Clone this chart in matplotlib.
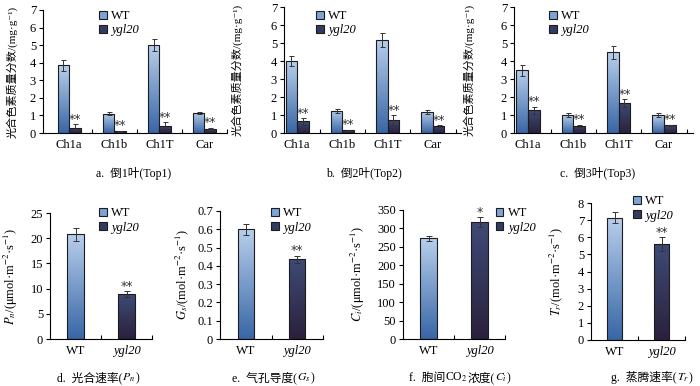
import matplotlib.pyplot as plt
import numpy as np
from matplotlib.colors import LinearSegmentedColormap
from matplotlib.ticker import MultipleLocator, FuncFormatter

# pigment content of the three top leaves (mg/g)
pigments = ['Ch1a', 'Ch1b', 'Ch1T', 'Car']
top1_wt = [3.85, 1.10, 5.00, 1.15]
top1_wt_err = [0.30, 0.10, 0.35, 0.06]
top1_ygl = [0.30, 0.10, 0.40, 0.25]
top1_ygl_err = [0.20, 0.03, 0.20, 0.05]
top2_wt = [4.00, 1.23, 5.17, 1.17]
top2_wt_err = [0.30, 0.10, 0.37, 0.09]
top2_ygl = [0.64, 0.16, 0.73, 0.39]
top2_ygl_err = [0.18, 0.03, 0.27, 0.04]
top3_wt = [3.48, 1.00, 4.48, 1.00]
top3_wt_err = [0.30, 0.09, 0.38, 0.10]
top3_ygl = [1.26, 0.41, 1.65, 0.42]
top3_ygl_err = [0.20, 0.05, 0.22, 0.04]

# gas exchange
genotypes = ['WT', 'ygl20']
pn_vals = [20.8, 8.9]
pn_err = [1.3, 0.6]
gs_vals = [0.60, 0.435]
gs_err = [0.03, 0.02]
ci_vals = [273, 318]
ci_err = [6, 13]
tr_vals = [7.15, 5.6]
tr_err = [0.3, 0.4]

plt.rcParams['font.family'] = ['Liberation Serif', 'Noto Sans CJK SC', 'DejaVu Serif']
plt.rcParams['mathtext.fontset'] = 'stix'
plt.rcParams['font.size'] = 9

W, H = 700, 386
fig = plt.figure(figsize=(W / 100, H / 100), dpi=100)

wt_cmap = LinearSegmentedColormap.from_list('wt', ['#3866a6', '#b8cfec'])
ygl_cmap = LinearSegmentedColormap.from_list('ygl', ['#2b203c', '#3e4b76'])
EDGE = '#1c1c1c'


def rect(left, right, top, bottom):
    return [left / W, 1 - bottom / H, (right - left) / W, (bottom - top) / H]


def fill_gradient(ax, bars, cmap):
    grad = np.linspace(0, 1, 256).reshape(-1, 1)
    for p in bars:
        x, y = p.get_xy()
        im = ax.imshow(grad, extent=(x, x + p.get_width(), y, y + p.get_height()),
                       origin='lower', aspect='auto', cmap=cmap, zorder=2)
        im.set_clip_path(p)
        p.set_facecolor('none')


def style(ax):
    ax.spines[['top', 'right']].set_visible(False)
    ax.spines[['left', 'bottom']].set_linewidth(0.8)
    ax.tick_params(axis='y', direction='out', length=3, width=0.8, pad=2, labelsize=9)
    ax.tick_params(axis='x', which='major', length=0, pad=4, labelsize=9)
    ax.tick_params(axis='x', which='minor', direction='in', length=3, width=0.8)
    ax.yaxis.set_major_formatter(FuncFormatter(lambda v, _: f'{v:g}'))


def add_legend(ax, handles, left, top):
    leg = ax.legend(handles, ['WT', 'ygl20'], loc='upper left',
                    bbox_to_anchor=(left / W, 1 - top / H), bbox_transform=fig.transFigure,
                    frameon=False, fontsize=9, handlelength=0.6, handleheight=0.6,
                    handletextpad=0.35, labelspacing=0.2, borderpad=0, borderaxespad=0)
    leg.get_texts()[1].set_fontstyle('italic')


def stars_above(ax, x, top, mark):
    ax.annotate(mark, (x, top), xytext=(0, 1), textcoords='offset points',
                ha='center', va='baseline', fontsize=9, color='#333333', family='DejaVu Sans')


def rich_text(xc, yb, pieces):
    # lay pieces side by side, centred on xc (pixels), baseline at yb (pixels from top)
    r = fig.canvas.get_renderer()
    texts = [fig.text(0, 1 - yb / H, s, ha='left', va='baseline', fontsize=8.5) for s in pieces]
    widths = [t.get_window_extent(r).width for t in texts]
    x = xc - sum(widths) / 2
    for t, w in zip(texts, widths):
        t.set_x(x / W)
        x += w


def pigment_panel(box, xlim, wt, wt_err, ygl, ygl_err, leg_pos, ylab_px, caption, cap_pos):
    ax = fig.add_axes(rect(*box))
    x = np.arange(len(pigments))
    w = 0.255
    b1 = ax.bar(x - w / 2, wt, w, color='#7ea3d4', edgecolor=EDGE, linewidth=0.8, zorder=3)
    b2 = ax.bar(x + w / 2, ygl, w, color='#353a62', edgecolor=EDGE, linewidth=0.8, zorder=3)
    ax.errorbar(x - w / 2, wt, yerr=wt_err, fmt='none', ecolor='#333333',
                elinewidth=0.7, capsize=1.8, capthick=0.7, zorder=4)
    ax.errorbar(x + w / 2, ygl, yerr=ygl_err, fmt='none', ecolor='#333333',
                elinewidth=0.7, capsize=1.8, capthick=0.7, zorder=4)
    for xi, v, e in zip(x + w / 2, ygl, ygl_err):
        stars_above(ax, xi, v + e, '**')
    add_legend(ax, [b1, b2], *leg_pos)
    fill_gradient(ax, b1, wt_cmap)
    fill_gradient(ax, b2, ygl_cmap)
    style(ax)
    ax.set_xlim(xlim)
    ax.set_ylim(0, 7)
    ax.yaxis.set_major_locator(MultipleLocator(1))
    ax.set_xticks(x, pigments)
    ax.set_xticks(np.arange(0.5, len(x)), minor=True)
    ax.set_ylabel('光合色素质量分数/(mg·g⁻¹)', fontsize=8)
    ax.yaxis.set_label_coords((ylab_px - box[0]) / (box[1] - box[0]), 0.5)
    fig.text(cap_pos[0] / W, 1 - cap_pos[1] / H, caption, ha='center', va='center', fontsize=8.5)


def gas_panel(box, vals, err, stars, ymax, step, leg_pos, ylabel, ylab_px, caption, cap_pos):
    ax = fig.add_axes(rect(*box))
    x = np.arange(len(genotypes))
    w = 0.32
    b1 = ax.bar(x[0], vals[0], w, color='#7ea3d4', edgecolor=EDGE, linewidth=0.8, zorder=3)
    b2 = ax.bar(x[1], vals[1], w, color='#353a62', edgecolor=EDGE, linewidth=0.8, zorder=3)
    ax.errorbar(x, vals, yerr=err, fmt='none', ecolor='#333333',
                elinewidth=0.7, capsize=2.2, capthick=0.7, zorder=4)
    stars_above(ax, x[1], vals[1] + err[1], stars)
    add_legend(ax, [b1, b2], *leg_pos)
    fill_gradient(ax, b1, wt_cmap)
    fill_gradient(ax, b2, ygl_cmap)
    style(ax)
    ax.set_xlim(-0.5, 1.5)
    ax.set_ylim(0, ymax)
    ax.yaxis.set_major_locator(MultipleLocator(step))
    ax.set_xticks(x, genotypes)
    ax.get_xticklabels()[1].set_fontstyle('italic')
    ax.set_xticks([0.5, 1.5], minor=True)
    ax.set_ylabel(ylabel, fontsize=9)
    ax.yaxis.set_label_coords((ylab_px - box[0]) / (box[1] - box[0]), 0.5)
    rich_text(cap_pos[0], cap_pos[1], caption)


pigment_panel((43, 227, 10, 133), (-0.58, 3.5), top1_wt, top1_wt_err, top1_ygl, top1_ygl_err,
              (99, 10), 18, 'a.  倒1叶(Top1)', (134, 173))
pigment_panel((284, 461, 7, 133), (-0.29, 3.62), top2_wt, top2_wt_err, top2_ygl, top2_ygl_err,
              (316, 10), 243, 'b.  倒2叶(Top2)', (364, 173))
pigment_panel((514, 693, 7, 133), (-0.31, 3.64), top3_wt, top3_wt_err, top3_ygl, top3_ygl_err,
              (549, 10), 475, 'c.  倒3叶(Top3)', (598, 173))

gas_panel((50, 152, 213, 339), pn_vals, pn_err, '**', 25, 5, (99, 207),
          r'$P_n$/($\mathrm{\mu}$mol·m$^{-2}$·s$^{-1}$)', 20,
          ['d.  光合速率(', r'$P_n$', ')'], (98, 381))
gas_panel((220, 323, 211, 339), gs_vals, gs_err, '**', 0.7, 0.1, (271, 207),
          r'$G_s$/(mol·m$^{-2}$·s$^{-1}$)', 191,
          ['e.  气孔导度(', r'$G_s$', ')'], (273, 381))
gas_panel((403, 505, 210, 339), ci_vals, ci_err, '*', 350, 50, (496, 207),
          r'$C_i$/($\mathrm{\mu}$mol·m$^{-2}$·s$^{-1}$)', 367,
          ['f.  胞间', r'CO$_2$', '浓度(', r'$C_i$', ')'], (460, 381))
gas_panel((591, 685, 203, 340), tr_vals, tr_err, '**', 8, 1, (633, 195),
          r'$T_r$/(mol·m$^{-2}$·s$^{-1}$)', 565,
          ['g.  蒸腾速率(', r'$T_r$', ')'], (652, 381))

fig.savefig('out.png', dpi=100)
